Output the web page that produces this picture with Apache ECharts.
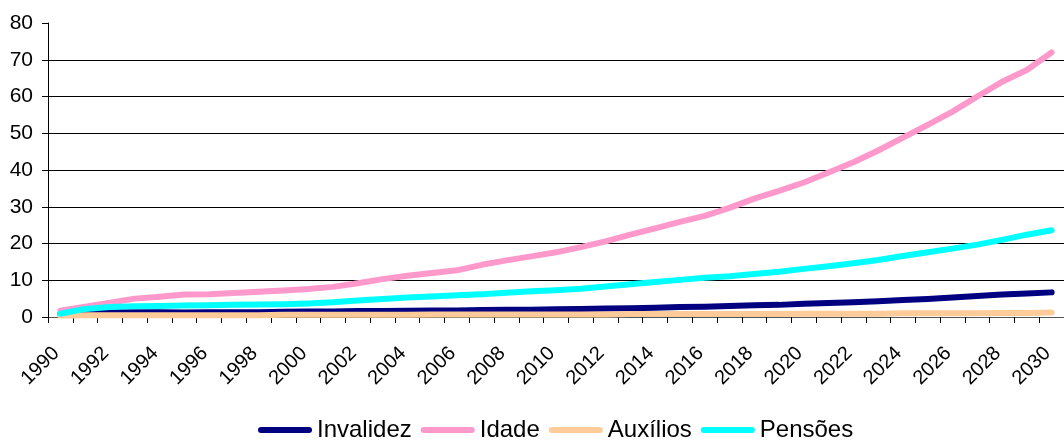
<!DOCTYPE html>
<html>
<head>
<meta charset="utf-8">
<script src="https://cdn.jsdelivr.net/npm/echarts@6/dist/echarts.min.js"></script>
<style>
  html, body { margin: 0; padding: 0; background: #fff; }
  #chart { width: 1064px; height: 441px; }
</style>
</head>
<body>
<div id="chart"></div>
<script>
// Years 1990–2030
const years = [];
for (let y = 1990; y <= 2030; y++) years.push(String(y));

const invalidez = [0.8, 1.2, 1.3, 1.3, 1.3, 1.2, 1.3, 1.3, 1.3, 1.4, 1.5,
  1.5, 1.6, 1.6, 1.7, 1.8, 1.8, 1.9, 2.0, 2.0, 2.1,
  2.2, 2.3, 2.4, 2.5, 2.7, 2.8, 3.0, 3.2, 3.3, 3.6,
  3.8, 4.0, 4.3, 4.6, 4.9, 5.3, 5.7, 6.1, 6.4, 6.7];

const idade = [1.7, 2.8, 3.9, 5.0, 5.5, 6.1, 6.2, 6.5, 6.9, 7.2, 7.6,
  8.2, 9.2, 10.3, 11.2, 12.0, 12.7, 14.2, 15.4, 16.5, 17.6,
  19.0, 20.6, 22.4, 24.1, 25.9, 27.5, 29.7, 32.2, 34.3, 36.6,
  39.3, 42.1, 45.3, 48.8, 52.3, 55.9, 60.0, 64.0, 67.2, 72.0];

const auxilios = [0.4, 0.5, 0.5, 0.5, 0.5, 0.5, 0.5, 0.5, 0.5, 0.6, 0.6,
  0.6, 0.6, 0.6, 0.6, 0.7, 0.7, 0.7, 0.7, 0.7, 0.7,
  0.7, 0.7, 0.8, 0.8, 0.8, 0.8, 0.8, 0.8, 0.8, 0.9,
  0.9, 0.9, 0.9, 1.0, 1.0, 1.0, 1.0, 1.1, 1.1, 1.2];

const pensoes = [0.9, 2.2, 2.7, 2.9, 3.0, 3.1, 3.2, 3.3, 3.4, 3.5, 3.7,
  4.0, 4.5, 4.9, 5.3, 5.6, 5.9, 6.2, 6.6, 7.0, 7.3,
  7.7, 8.3, 8.9, 9.5, 10.1, 10.7, 11.1, 11.7, 12.3, 13.1,
  13.8, 14.6, 15.5, 16.6, 17.6, 18.6, 19.7, 21.0, 22.4, 23.6];

const seriesNames = ['Invalidez', 'Idade', 'Auxílios', 'Pensões'];
const seriesData = [invalidez, idade, auxilios, pensoes];
const seriesColors = ['#000080', '#FF99CC', '#FFCC99', '#00FFFF'];

const FONT = '"Liberation Sans", Arial, sans-serif';

const chart = echarts.init(document.getElementById('chart'), null, { renderer: 'canvas' });

chart.setOption({
  animation: false,
  backgroundColor: '#ffffff',
  grid: { left: 48, right: -5, top: 23, bottom: 124, containLabel: false },
  legend: {
    data: seriesNames,
    top: 413,
    left: 253,
    itemWidth: 54,
    itemHeight: 6,
    itemGap: 9,
    icon: 'path://M3,0H51A3,3 0 0 1 51,6H3A3,3 0 0 1 3,0Z',
    textStyle: { fontFamily: FONT, fontSize: 24, color: '#000' }
  },
  xAxis: {
    type: 'category',
    data: years,
    boundaryGap: true,
    axisLine: { show: true, lineStyle: { color: '#555', width: 1 } },
    axisTick: { show: true, interval: 0, length: 6, lineStyle: { color: '#000' } },
    axisLabel: {
      interval: 1,
      rotate: 45,
      margin: 29,
      padding: [0, 6, 0, 0],
      fontFamily: FONT,
      fontSize: 20,
      color: '#000'
    },
    splitLine: { show: false }
  },
  yAxis: {
    type: 'value',
    min: 0,
    max: 80,
    interval: 10,
    axisLine: { show: true, lineStyle: { color: '#000', width: 1 } },
    axisTick: { show: true, length: 6, lineStyle: { color: '#000' } },
    axisLabel: { margin: 15, fontFamily: FONT, fontSize: 21, color: '#000' },
    splitLine: { show: true, showMinLine: false, showMaxLine: false, lineStyle: { color: '#000', width: 1 } }
  },
  series: seriesNames.map((name, i) => ({
    name: name,
    type: 'line',
    data: seriesData[i],
    showSymbol: false,
    symbol: 'none',
    smooth: false,
    color: seriesColors[i],
    lineStyle: { color: seriesColors[i], width: 6, cap: 'round', join: 'round' },
    z: 2 + i
  }))
});
</script>
</body>
</html>
